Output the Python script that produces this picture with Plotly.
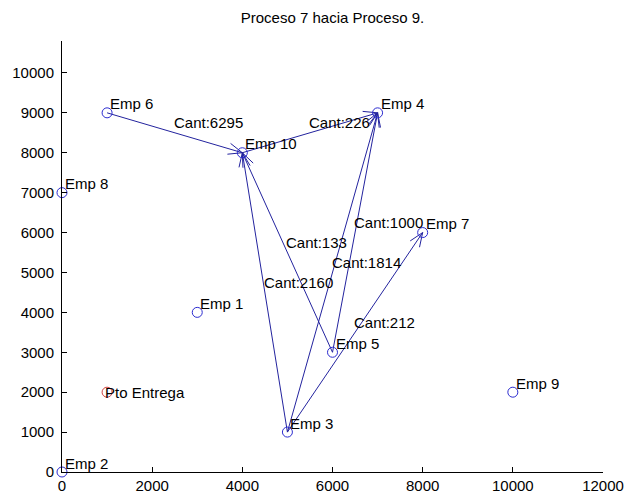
import math
import plotly.graph_objects as go

# ---- data ----
emp_names = ["Emp 1", "Emp 2", "Emp 3", "Emp 4", "Emp 5",
             "Emp 6", "Emp 7", "Emp 8", "Emp 9", "Emp 10"]
emp_x = [3000, 0, 5000, 7000, 6000, 1000, 8000, 0, 10000, 4000]
emp_y = [4000, 0, 1000, 9000, 3000, 9000, 6000, 7000, 2000, 8000]

depot_name = "Pto Entrega"
depot_x = [1000]
depot_y = [2000]

# routes: origin Emp number, destination Emp number, quantity
route_from = [6, 10, 3, 5, 3, 5, 3]
route_to = [10, 4, 10, 10, 4, 4, 7]
route_qty = [6295, 226, 2160, 133, 1814, 1000, 212]

title_text = "Proceso 7 hacia Proceso 9."
x_ticks = [0, 2000, 4000, 6000, 8000, 10000, 12000]
y_ticks = [0, 1000, 2000, 3000, 4000, 5000, 6000, 7000, 8000, 9000, 10000]

# ---- layout geometry ----
W, H = 634, 498
ML, MR, MT, MB = 62, 31, 41, 26
XR = [0, 12000]
YR = [0, 10800]
sx = (W - ML - MR) / (XR[1] - XR[0])
sy = (H - MT - MB) / (YR[1] - YR[0])

FONT = "Liberation Sans, Arial, sans-serif"
FS = 15
LINE_C = "#23239e"
MARK_C = "#2b2bd0"

# shafts
lx, ly = [], []
bx, by = [], []
head_len = 15.0
head_ang = math.radians(22)
for a, b in zip(route_from, route_to):
    x0, y0 = emp_x[a - 1], emp_y[a - 1]
    x1, y1 = emp_x[b - 1], emp_y[b - 1]
    lx += [x0, x1, None]
    ly += [y0, y1, None]
    # barbs computed in pixel space
    dxp, dyp = (x1 - x0) * sx, (y1 - y0) * sy
    ang = math.atan2(dyp, dxp)
    for s in (1, -1):
        t = ang + math.pi + s * head_ang
        px = head_len * math.cos(t) / sx
        py = head_len * math.sin(t) / sy
        bx += [x1, x1 + px, None]
        by += [y1, y1 + py, None]

fig = go.Figure()
fig.add_trace(go.Scatter(x=lx, y=ly, mode="lines",
                         line=dict(color=LINE_C, width=1), hoverinfo="skip"))
fig.add_trace(go.Scatter(x=bx, y=by, mode="lines",
                         line=dict(color=LINE_C, width=1), hoverinfo="skip"))
fig.add_trace(go.Scatter(x=emp_x, y=emp_y, mode="markers", cliponaxis=False,
                         marker=dict(symbol="circle-open", size=10, color=MARK_C,
                                     line=dict(color=MARK_C, width=1))))
fig.add_trace(go.Scatter(x=depot_x, y=depot_y, mode="markers", cliponaxis=False,
                         marker=dict(symbol="circle-open", size=10, color="#d04040",
                                     line=dict(color="#d04040", width=1))))

ann = []
for n, x, y in zip(emp_names, emp_x, emp_y):
    ann.append(dict(x=x, y=y, text=n, showarrow=False, xanchor="left",
                    yanchor="middle", yshift=9, xshift=1,
                    font=dict(family=FONT, size=FS, color="black")))
ann.append(dict(x=depot_x[0], y=depot_y[0], text=depot_name, showarrow=False,
                xanchor="left", yanchor="middle", xshift=-4,
                font=dict(family=FONT, size=FS, color="black")))
for a, b, q in zip(route_from, route_to, route_qty):
    mx = (emp_x[a - 1] + emp_x[b - 1]) / 2
    my = (emp_y[a - 1] + emp_y[b - 1]) / 2
    ann.append(dict(x=mx, y=my, text="Cant:%d" % q, showarrow=False,
                    xanchor="left", yanchor="middle", yshift=10, xshift=-3,
                    font=dict(family=FONT, size=FS, color="black")))

axis_common = dict(showgrid=False, zeroline=False, showline=True,
                   linecolor="black", linewidth=1, ticks="inside",
                   ticklen=5, tickcolor="black", mirror=False, automargin=False,
                   tickfont=dict(family=FONT, size=FS, color="black"))

fig.update_layout(
    width=W, height=H,
    margin=dict(l=ML, r=MR, t=MT, b=MB, pad=0),
    paper_bgcolor="white", plot_bgcolor="white",
    showlegend=False,
    hovermode=False,
    annotations=ann,
    title=dict(text=title_text, x=0.5, xanchor="center",
               y=1 - 18 / H, yanchor="middle", xref="paper", yref="container",
               font=dict(family=FONT, size=FS, color="black")),
    xaxis=dict(range=XR, tickvals=x_ticks, ticktext=[str(v) for v in x_ticks],
               **axis_common),
    yaxis=dict(range=YR, tickvals=y_ticks, ticktext=[str(v) for v in y_ticks],
               ticklabelstandoff=4, **axis_common),
)

fig.write_html(
    "out.html",
    config={"displayModeBar": False},
    post_script="document.body.style.margin='0';document.body.style.overflow='hidden';",
)
